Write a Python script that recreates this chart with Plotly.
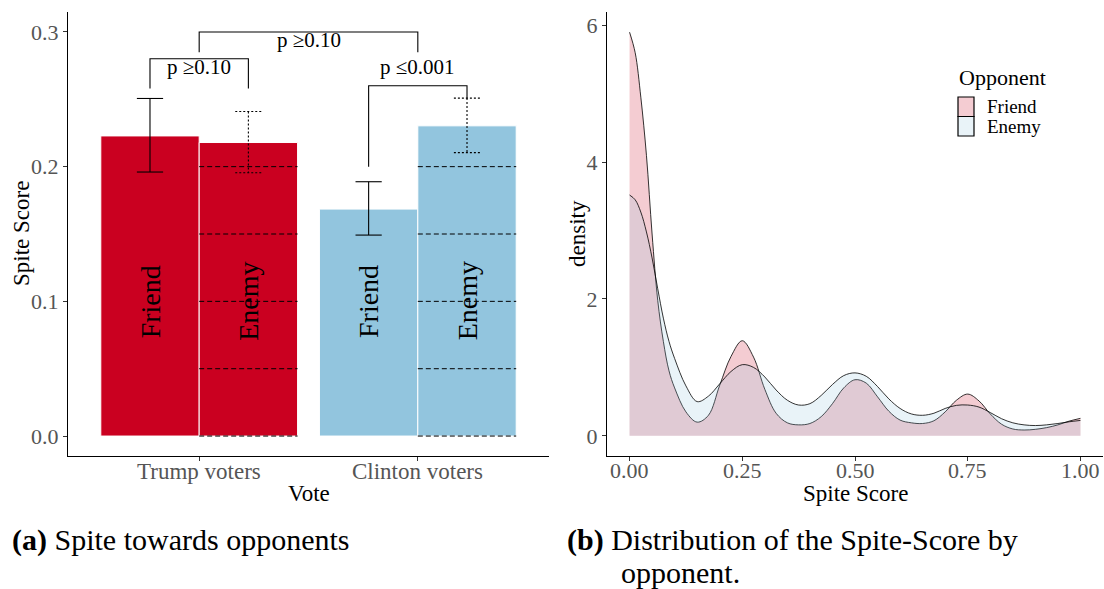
import plotly.graph_objects as go

W, H = 1104, 589
FONT = "Liberation Serif, serif"
TICK_GREY = "#555555"

# ---------------- Panel (a): spite score by vote and opponent ----------------
votes = ["Trump voters", "Clinton voters"]
vote_pos = [1, 2]
opponents = ["Friend", "Enemy"]
vote_colors = ["#CA0020", "#92C5DE"]

spite_mean = {"Friend": [0.2228, 0.1685], "Enemy": [0.2179, 0.2303]}
spite_lo = {"Friend": [0.1960, 0.1492], "Enemy": [0.1955, 0.2104]}
spite_hi = {"Friend": [0.2506, 0.1888], "Enemy": [0.2409, 0.2509]}

# significance comparisons: (x_left, x_right, y_bar, y_end_left, y_end_right, label, label_y)
comparisons = [
    (0.775, 1.225, 0.2801, 0.258, 0.258, "p \u22650.10", 0.2737),
    (1.775, 2.225, 0.2600, 0.200, 0.2509, "p \u22640.001", 0.2737),
    (1.0, 2.0, 0.3000, 0.285, 0.285, "p \u22650.10", 0.2943),
]

# ---------------- Panel (b): density of the spite score ----------------
score_grid = [0.0, 0.0125, 0.025, 0.0375, 0.05, 0.0625, 0.075, 0.0875, 0.1, 0.125,
              0.15, 0.175, 0.2, 0.225, 0.25, 0.275, 0.3, 0.325, 0.35, 0.375,
              0.4, 0.425, 0.45, 0.475, 0.5, 0.525, 0.55, 0.575, 0.6, 0.625,
              0.65, 0.675, 0.7, 0.725, 0.75, 0.775, 0.8, 0.825, 0.85, 0.875,
              0.9, 0.925, 0.95, 0.975, 1.0]
dens_friend = [5.90, 5.60, 4.95, 4.10, 2.95, 1.98, 1.38, 0.95, 0.70, 0.35,
               0.20, 0.30, 0.74, 1.16, 1.39, 1.15, 0.68, 0.33, 0.19, 0.16,
               0.18, 0.28, 0.47, 0.70, 0.82, 0.77, 0.57, 0.36, 0.23, 0.19,
               0.18, 0.22, 0.35, 0.52, 0.61, 0.51, 0.32, 0.17, 0.10, 0.085,
               0.095, 0.12, 0.16, 0.215, 0.255]
dens_enemy = [3.52, 3.45, 3.27, 2.98, 2.60, 2.15, 1.72, 1.38, 1.13, 0.73,
              0.50, 0.58, 0.76, 0.94, 1.04, 1.00, 0.86, 0.67, 0.52, 0.45,
              0.47, 0.59, 0.75, 0.88, 0.92, 0.87, 0.72, 0.54, 0.40, 0.32,
              0.30, 0.33, 0.40, 0.445, 0.45, 0.42, 0.34, 0.25, 0.19, 0.16,
              0.15, 0.16, 0.18, 0.205, 0.225]
density_fill = {"Friend": "rgba(202,0,32,0.2)", "Enemy": "rgba(146,197,222,0.2)"}
legend_swatch = {"Friend": "#F4CCD2", "Enemy": "#E9F3F8"}

score_ticks = [0, 0.25, 0.5, 0.75, 1.0]
score_ticktext = ["0.00", "0.25", "0.50", "0.75", "1.00"]


def px(x):
    return x / W


def py(y):
    return 1 - y / H


fig = go.Figure()

BAR_W = 0.45
offsets = {"Friend": -BAR_W / 2, "Enemy": BAR_W / 2}

for opp in opponents:
    fig.add_trace(go.Bar(
        x=vote_pos, y=spite_mean[opp], name=opp,
        marker=dict(color=vote_colors, line=dict(color="white", width=1)),
        xaxis="x", yaxis="y", showlegend=False, hoverinfo="skip",
    ))

# stripe pattern on the Enemy bars
for i, v in enumerate(spite_mean["Enemy"]):
    xc = vote_pos[i] + offsets["Enemy"]
    level = 0.0
    while level <= v + 1e-9:
        fig.add_shape(type="line", xref="x", yref="y",
                      x0=xc - BAR_W / 2, x1=xc + BAR_W / 2, y0=level, y1=level,
                      line=dict(color="black", width=1, dash="5px,3px"))
        level = round(level + 0.05, 4)

# error bars (solid for Friend, dotted for Enemy)
CAP = 0.06
for opp, dash in (("Friend", "solid"), ("Enemy", "2px,2px")):
    xs, ys = [], []
    for i in range(len(vote_pos)):
        xc = vote_pos[i] + offsets[opp]
        lo, hi = spite_lo[opp][i], spite_hi[opp][i]
        xs += [xc - CAP, xc + CAP, None, xc, xc, None, xc - CAP, xc + CAP, None]
        ys += [hi, hi, None, hi, lo, None, lo, lo, None]
    fig.add_trace(go.Scatter(x=xs, y=ys, mode="lines", xaxis="x", yaxis="y",
                             line=dict(color="black", width=1.1, dash=dash),
                             showlegend=False, hoverinfo="skip"))

# opponent labels inside the bars
for opp in opponents:
    for i in range(len(vote_pos)):
        fig.add_annotation(x=vote_pos[i] + offsets[opp], y=0.1, xref="x", yref="y",
                           text=opp, textangle=-90, showarrow=False,
                           font=dict(family=FONT, size=28, color="black"))

# significance brackets
for xl, xr, yb, yel, yer, lab, ly in comparisons:
    fig.add_trace(go.Scatter(x=[xl, xl, xr, xr], y=[yel, yb, yb, yer], mode="lines",
                             xaxis="x", yaxis="y",
                             line=dict(color="black", width=1.1),
                             showlegend=False, hoverinfo="skip"))
    fig.add_annotation(x=(xl + xr) / 2, y=ly, xref="x", yref="y", text=lab,
                       showarrow=False, font=dict(family=FONT, size=21, color="black"))

# density curves
for opp, dens in (("Friend", dens_friend), ("Enemy", dens_enemy)):
    fig.add_trace(go.Scatter(x=score_grid, y=dens, mode="lines", fill="tozeroy",
                             fillcolor=density_fill[opp], name=opp,
                             line=dict(color="black", width=0.8, shape="spline"),
                             xaxis="x2", yaxis="y2", showlegend=False, hoverinfo="skip"))

axis_common = dict(showline=True, linecolor="black", linewidth=1.1, ticks="outside",
                   ticklen=4, tickcolor="#333333", tickwidth=1, showgrid=False,
                   zeroline=False, tickfont=dict(family=FONT, size=22, color=TICK_GREY))

ydom = [py(456), py(12)]
fig.update_layout(
    width=W, height=H, margin=dict(l=0, r=0, t=0, b=0),
    paper_bgcolor="white", plot_bgcolor="white",
    barmode="group", bargap=0.1, bargroupgap=0,
    xaxis=dict(domain=[px(68), px(549)], range=[0.4, 2.6], tickvals=vote_pos,
               showticklabels=False, anchor="y", **axis_common),
    yaxis=dict(domain=ydom, range=[-0.0148, 0.3148], tickvals=[0, 0.1, 0.2, 0.3],
               ticktext=["0.0", "0.1", "0.2", "0.3"], anchor="x", **axis_common),
    xaxis2=dict(domain=[px(607), px(1103)], range=[-0.05, 1.05],
                tickvals=score_ticks, showticklabels=False, anchor="y2", **axis_common),
    yaxis2=dict(domain=ydom, range=[-0.295, 6.195], tickvals=[0, 2, 4, 6],
                anchor="x2", **axis_common),
)

# category / score tick labels placed just under the x axes
for pos, lab in zip(vote_pos, votes):
    fig.add_annotation(x=pos, y=py(471), xref="x", yref="paper", text=lab,
                       showarrow=False, xanchor="center", yanchor="middle",
                       font=dict(family=FONT, size=23, color=TICK_GREY))
for pos, lab in zip(score_ticks, score_ticktext):
    fig.add_annotation(x=pos, y=py(470), xref="x2", yref="paper", text=lab,
                       showarrow=False, xanchor="center", yanchor="middle",
                       font=dict(family=FONT, size=22, color=TICK_GREY))

# axis titles
titles = [
    ("Spite Score", 22, 234, -90),
    ("Vote", 309, 493, 0),
    ("density", 578, 234, -90),
    ("Spite Score", 855, 493, 0),
]
for txt, tx, ty, ang in titles:
    fig.add_annotation(x=px(tx), y=py(ty), xref="paper", yref="paper", text=txt,
                       textangle=ang, showarrow=False, xanchor="center", yanchor="middle",
                       font=dict(family=FONT, size=23, color="black"))

# legend for panel (b)
fig.add_annotation(x=px(957), y=py(77), xref="paper", yref="paper", text="Opponent",
                   showarrow=False, xanchor="left", yanchor="middle",
                   font=dict(family=FONT, size=22, color="black"))
key_top = 97
key_h = 19.5
for k, opp in enumerate(opponents):
    y0 = key_top + k * key_h
    fig.add_shape(type="rect", xref="paper", yref="paper",
                  x0=px(958), x1=px(974), y0=py(y0), y1=py(y0 + key_h),
                  fillcolor=legend_swatch[opp], line=dict(color="black", width=1.2))
    fig.add_annotation(x=px(986), y=py(y0 + key_h / 2), xref="paper", yref="paper", text=opp,
                       showarrow=False, xanchor="left", yanchor="middle", borderpad=0,
                       font=dict(family=FONT, size=19, color="black"))

# sub-figure captions
captions = [
    ("<b>(a)</b> Spite towards opponents", 11, 540),
    ("<b>(b)</b> Distribution of the Spite-Score by", 566, 540),
    ("opponent.", 620, 572),
]
for txt, tx, ty in captions:
    fig.add_annotation(x=px(tx), y=py(ty), xref="paper", yref="paper", text=txt,
                       showarrow=False, xanchor="left", yanchor="middle", borderpad=0,
                       font=dict(family=FONT, size=30, color="black"))

fig.write_html("out.html")
